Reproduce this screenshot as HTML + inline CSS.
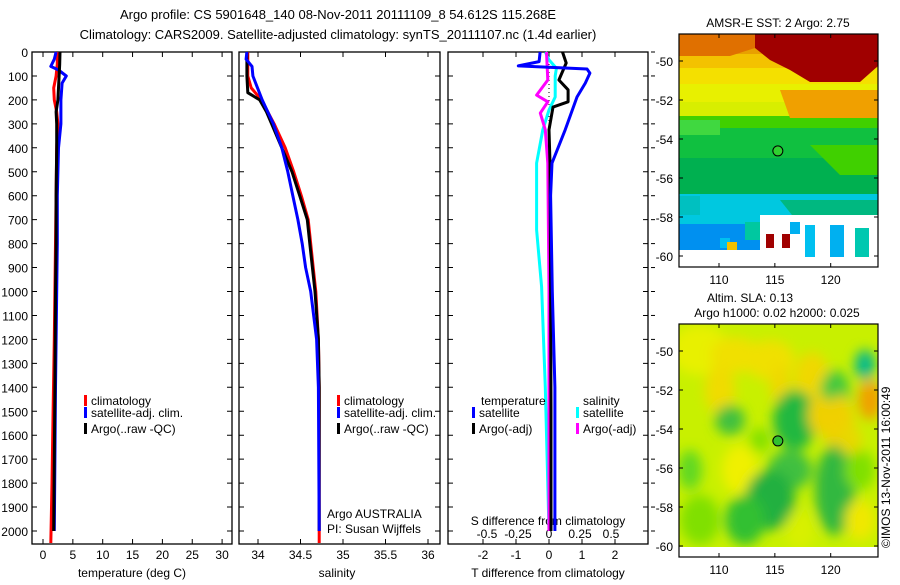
<!DOCTYPE html>
<html><head><meta charset="utf-8">
<style>
body{margin:0;background:#fff;width:900px;height:580px;overflow:hidden}
svg text{font-family:"Liberation Sans",sans-serif;fill:#000}
</style></head>
<body>
<svg id="c" width="900" height="580" xmlns="http://www.w3.org/2000/svg">
<defs>
<filter id="blur" x="-20%" y="-20%" width="140%" height="140%"><feGaussianBlur stdDeviation="6"/></filter>
<clipPath id="m1clip"><rect x="679" y="34" width="199" height="223"/></clipPath>
<clipPath id="m2clip"><rect x="679" y="324" width="199" height="223"/></clipPath>
</defs>
<text x="338" y="19" font-size="13" text-anchor="middle">Argo profile: CS 5901648_140 08-Nov-2011 20111109_8 54.612S 115.268E</text>
<text x="338" y="39" font-size="13" text-anchor="middle">Climatology: CARS2009. Satellite-adjusted climatology: synTS_20111107.nc (1.4d earlier)</text>
<g id="g"></g>
</svg>
<script>
// ---------- data ----------
const depthTicks=[0,100,200,300,400,500,600,700,800,900,1000,1100,1200,1300,1400,1500,1600,1700,1800,1900,2000];
const tempTicks=[0,5,10,15,20,25,30];
const salTicks=[34,34.5,35,35.5,36];
const salTickLabels=["34","34.5","35","35.5","36"];
const tdiffTicks=[-2,-1,0,1,2];
const sdiffTicks=[-0.5,-0.25,0,0.25,0.5];
const sdiffTickLabels=["-0.5","-0.25","0","0.25","0.5"];
// temperature panel
const tClimDepth=[0,50,100,150,200,250,300,400,600,800,1000,1200,1500,1800,2050];
const tClimVal=[2.4,2.4,2.2,1.8,1.9,2.3,2.5,2.3,2.2,2.1,2.0,1.9,1.7,1.5,1.3];
const tSatDepth=[0,30,60,75,100,130,200,300,400,600,800,1000,1400,1700,2000];
const tSatVal=[2.2,1.9,1.3,2.6,3.9,3.2,3.0,3.0,2.6,2.4,2.4,2.3,2.1,2.0,1.9];
const tArgoDepth=[0,50,100,150,200,250,300,400,600,800,1000,1400,1700,2000];
const tArgoVal=[2.85,2.8,2.7,2.6,2.5,2.2,2.3,2.3,2.2,2.2,2.1,2.0,1.9,1.8];
// salinity panel
const sClimDepth=[0,100,150,200,300,400,500,600,700,800,900,1000,1200,1400,2050];
const sClimVal=[33.88,33.88,33.92,34.04,34.19,34.32,34.42,34.51,34.59,34.62,34.65,34.68,34.71,34.72,34.72];
const sSatDepth=[0,30,60,100,200,300,400,500,600,700,800,900,1000,1200,1400,2000];
const sSatVal=[33.87,33.86,33.93,33.94,34.05,34.18,34.28,34.35,34.41,34.47,34.52,34.56,34.62,34.69,34.71,34.72];
const sArgoDepth=[0,100,170,200,250,300,400,500,600,700,800,900,1000,1200,1400,2000];
const sArgoVal=[33.87,33.87,33.88,34.02,34.1,34.16,34.28,34.40,34.49,34.58,34.61,34.64,34.67,34.71,34.72,34.72];
// difference panel (T in deg C, S in psu)
const dTSatDepth=[0,40,58,71,88,130,188,325,464,600,1000,1400,2000];
const dTSatVal=[-0.27,-0.3,-0.93,1.15,1.24,1.1,0.85,0.49,0.09,0.05,0.1,0.18,0.18];
const dTArgoDepth=[0,46,117,158,208,230,325,464,1000,1500,2000];
const dTArgoVal=[0.41,0.52,0.3,0.58,0.58,0.12,0.0,0.03,0.05,0.06,0.06];
const dSSatDepth=[0,33,68,100,188,242,325,464,743,981,1400,2000];
const dSSatVal=[-0.03,0.0,0.06,0.05,0.05,0.0,-0.05,-0.1,-0.1,-0.06,-0.03,0.0];
const dSArgoDepth=[0,117,180,208,255,325,464,1000,1500,2000];
const dSArgoVal=[-0.02,-0.01,-0.1,-0.01,-0.07,-0.03,-0.01,0.0,0.0,0.0];
// maps
const lonTicks=[110,115,120];
const latTicks=[-50,-52,-54,-56,-58,-60];
const argoLon=115.268, argoLat=-54.612;

// ---------- helpers ----------
const NS="http://www.w3.org/2000/svg";
const G=document.getElementById('g');
function mk(tag,attrs,parent){const e=document.createElementNS(NS,tag);for(const k in attrs)e.setAttribute(k,attrs[k]);(parent||G).appendChild(e);return e;}
const yD=d=>52+d*0.2395;
const P1={l:32,r:232}, P2={l:239,r:440}, P3={l:448,r:648};
const TOP=52,BOT=544;
const xT=v=>43+v*5.97;
const xS=v=>258+(v-34)*85;
const xDT=v=>549+v*33;
const xDS=v=>549+v*124;

function panel(P,name){
  const r=mk('rect',{x:P.l,y:TOP,width:P.r-P.l,height:BOT-TOP,fill:'none',stroke:'#000','stroke-width':1.3});
  
  
  depthTicks.forEach(d=>{
    const t=mk('path',{d:`M${P.l} ${yD(d)}h5M${P.r} ${yD(d)}h-5`,stroke:'#000'});
    
    
  });
}
function xticks(vals,fx,labels,name){
  vals.forEach((v,i)=>{
    const x=fx(v);
    const t=mk('path',{d:`M${x} ${BOT}v-5M${x} ${TOP}v5`,stroke:'#000'});
    
    
    if(labels){
      const tx=mk('text',{x:x,y:559,'font-size':12,'text-anchor':'middle'});
      tx.textContent=labels[i];
      
      
    }
  });
}
function line(ds,vs,fx,color,name,w){
  const pts=ds.map((d,i)=>fx(vs[i]).toFixed(1)+','+yD(d).toFixed(1)).join(' ');
  const p=mk('polyline',{points:pts,fill:'none',stroke:color,'stroke-width':w||3,'stroke-linejoin':'round'});
  
  
}
function txt(x,y,s,name,opt){
  const t=mk('text',Object.assign({x:x,y:y,'font-size':12},opt||{}));
  t.textContent=s;
  
  
  return t;
}
function legend(x,y,color,s,name){
  const r=mk('rect',{x:x,y:y-10,width:3,height:11,fill:color});
  
  
  txt(x+7,y,s,name);
}

// ---------- panels ----------
panel(P1,'temperature-panel');panel(P2,'salinity-panel');panel(P3,'difference-panel');
depthTicks.forEach(d=>txt(28,yD(d)+5,String(d),'depth-tick-label',{'text-anchor':'end'}));
xticks(tempTicks,xT,tempTicks.map(String),'temperature-tick-label');
xticks(salTicks,xS,salTickLabels,'salinity-tick-label');
xticks(tdiffTicks,xDT,tdiffTicks.map(String),'tdiff-tick-label');
sdiffTicks.forEach((v,i)=>txt(xDS(v),538,sdiffTickLabels[i],'sdiff-tick-label',{'text-anchor':'middle'}));
txt(132,577,'temperature (deg C)','x-axis-title-temperature',{'text-anchor':'middle'});
txt(337,577,'salinity','x-axis-title-salinity',{'text-anchor':'middle'});
txt(548,577,'T difference from climatology','x-axis-title-tdiff',{'text-anchor':'middle'});
txt(548,525,'S difference from climatology','s-diff-title',{'text-anchor':'middle'});

const z=mk('line',{x1:xDT(0),y1:yD(0),x2:xDT(0),y2:yD(2000),stroke:'#000','stroke-dasharray':'1,3'});



line(tClimDepth,tClimVal,xT,'#f00','temp-climatology-line');
line(tSatDepth,tSatVal,xT,'#00f','temp-satellite-line');
line(tArgoDepth,tArgoVal,xT,'#000','temp-argo-line');
line(sClimDepth,sClimVal,xS,'#f00','sal-climatology-line');
line(sArgoDepth,sArgoVal,xS,'#000','sal-argo-line');
line(sSatDepth,sSatVal,xS,'#00f','sal-satellite-line');
line(dSSatDepth,dSSatVal,xDS,'#0ff','sdiff-satellite-line');
line(dSArgoDepth,dSArgoVal,xDS,'#f0f','sdiff-argo-line');
line(dTArgoDepth,dTArgoVal,xDT,'#000','tdiff-argo-line');
line(dTSatDepth,dTSatVal,xDT,'#00f','tdiff-satellite-line');

legend(84,405,'#f00','climatology','legend-climatology');
legend(84,417,'#00f','satellite-adj. clim.','legend-satellite');
legend(84,433,'#000','Argo(..raw -QC)','legend-argo');
legend(337,405,'#f00','climatology','legend2-climatology');
legend(337,417,'#00f','satellite-adj. clim.','legend2-satellite');
legend(337,433,'#000','Argo(..raw -QC)','legend2-argo');
txt(481,405,'temperature','legend-temperature-header');
txt(583,405,'salinity','legend-salinity-header');
legend(472,417,'#00f','satellite','legend-t-satellite');
legend(472,433,'#000','Argo(-adj)','legend-t-argo');
legend(576,417,'#0ff','satellite','legend-s-satellite');
legend(576,433,'#f0f','Argo(-adj)','legend-s-argo');
txt(327,518,'Argo AUSTRALIA','platform-label');
txt(327,533,'PI: Susan Wijffels','pi-label');
depthTicks.forEach(d=>{const t=mk('path',{d:`M${P3.r+3} ${yD(d)}h4`,stroke:'#000'});
  
  });

// ---------- maps ----------
const lonX=v=>719+(v-110)*11.17;
function mapFrame(top,name){
  const ly=v=>top+27+(-50-v)*19.5;
  const r=mk('rect',{x:679,y:top,width:199,height:233,fill:'none',stroke:'#000','stroke-width':1.2});
  
  
  latTicks.forEach(v=>{const y=ly(v);
    const t=mk('path',{d:`M679 ${y}h4M878 ${y}h-4`,stroke:'#000'});
    
    
    txt(673,y+5,String(v),'lat-tick-label',{'text-anchor':'end'});});
  lonTicks.forEach(v=>{const x=lonX(v);
    const t=mk('path',{d:`M${x} ${top}v4M${x} ${top+233}v-4`,stroke:'#000'});
    
    
    txt(x,top+250,String(v),'lon-tick-label',{'text-anchor':'middle'});});
  return ly;
}
let ly1=v=>34+27+(-50-v)*19.5;
const m1=mk('g',{'clip-path':'url(#m1clip)'});


const sstBands=[[34,20,'#e8a000'],[54,14,'#f3c200'],[68,16,'#f4e000'],[84,18,'#e8f000'],[102,14,'#d8ee00'],[116,12,'#40d000'],[128,30,'#10c040'],[158,36,'#00b050'],[194,30,'#00c8e0'],[224,36,'#0090f0']];
sstBands.forEach(b=>{const r=mk('rect',{x:679,y:b[0],width:199,height:b[1]+1,fill:b[2]},m1);
  
  });
[['M755 34H878V66L860 82H810L790 70L770 60L755 48Z','#a00000'],['M679 34H755V48L730 56H679Z','#e07000'],
 ['M780 90H878V118H790Z','#f0a000'],['M679 120H720V135H679Z','#40d840'],['M810 145H878V175H840Z','#40d000'],
 ['M679 196H700V215H679Z','#00c0c0'],['M745 222H800V240H745Z','#00c8a0'],['M780 200H878V225H800Z','#00b880']].forEach(p=>{
  const e=mk('path',{d:p[0],fill:p[1]},m1);
  
  });
[['M760 215H878V257H679V250H760Z','#fff']].forEach(p=>{const e=mk('path',{d:p[0],fill:p[1]},m1);
  
  });
[[790,222,10,12,'#00b0f0'],[805,225,10,32,'#00c0f0'],[830,225,14,32,'#00b0f0'],[855,228,14,29,'#00c8b0'],[766,234,8,14,'#a00000'],[782,234,8,14,'#a00000'],[720,238,10,10,'#00c0f0'],[727,242,10,8,'#f0c000']].forEach(c=>{
  const e=mk('rect',{x:c[0],y:c[1],width:c[2],height:c[3],fill:c[4]},m1);
  
  });
mk('rect',{x:679,y:257,width:199,height:10,fill:'#fff'});
mapFrame(34,'sst-map-frame');
txt(778,27,'AMSR-E SST: 2 Argo: 2.75','sst-map-title',{'text-anchor':'middle'});
const d1=mk('circle',{cx:lonX(argoLon),cy:ly1(argoLat),r:5,fill:'#30d030',stroke:'#000'});



const ly2=v=>324+27+(-50-v)*19.5;
const m2=mk('g',{'clip-path':'url(#m2clip)'});


mk('rect',{x:679,y:324,width:199,height:223,fill:'#c8f000'},m2);
const blobs=mk('g',{filter:'url(#blur)'},m2);
[[700,350,30,25,'#e8f000'],[735,355,25,18,'#f0e000'],[770,360,25,20,'#f0e000'],[720,390,15,25,'#f0dc00'],
 [780,385,10,20,'#f0d800'],[812,382,18,30,'#f0d800'],[835,395,15,25,'#40c840'],[870,400,12,20,'#f0a000'],
 [865,365,10,15,'#00b890'],[795,420,22,30,'#20b840'],[820,415,12,20,'#f0d000'],[840,430,15,35,'#f0d000'],
 [740,470,18,25,'#f0f000'],[790,470,22,20,'#40c040'],[770,500,25,30,'#20b040'],[745,520,20,25,'#30c030'],
 [835,490,20,45,'#30b840'],[860,520,15,20,'#f0e800'],[800,530,15,20,'#d8f000'],[700,520,20,25,'#80e000'],
 [730,420,15,15,'#40c040'],[860,470,15,20,'#80e000'],[850,440,12,15,'#e8d800'],[690,470,12,20,'#60d820'],[760,440,10,12,'#80e000']].forEach(b=>{
  const e=mk('ellipse',{cx:b[0],cy:b[1],rx:b[2],ry:b[3],fill:b[4]},blobs);
  
  });
mk('rect',{x:679,y:547,width:199,height:10,fill:'#fff'});
mapFrame(324,'sla-map-frame');
txt(707,302,'Altim. SLA: 0.13','sla-map-title');
txt(777,317,'Argo h1000: 0.02 h2000: 0.025','sla-map-subtitle',{'text-anchor':'middle'});
const d2=mk('circle',{cx:lonX(argoLon),cy:ly2(argoLat),r:5,fill:'#30c030',stroke:'#000'});


txt(0,0,'©IMOS 13-Nov-2011 16:00:49','imos-timestamp',{transform:'translate(890,548) rotate(-90)'});
</script>
</body></html>
